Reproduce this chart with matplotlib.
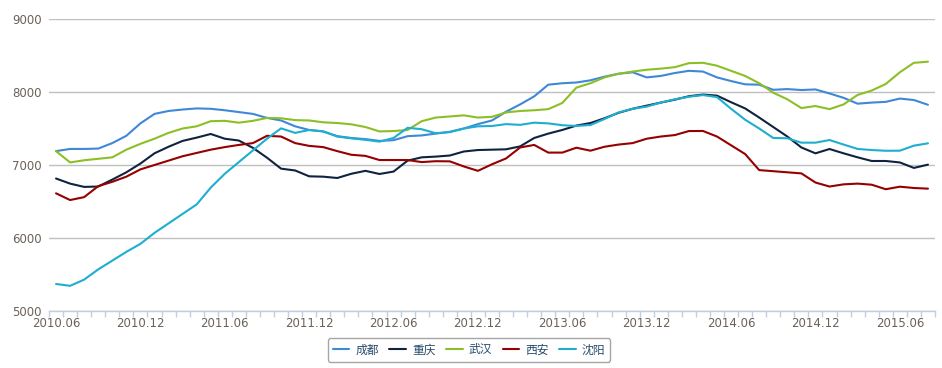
import matplotlib
matplotlib.use("Agg")
import matplotlib.pyplot as plt
from matplotlib.ticker import FixedLocator

# monthly categories 2010.06 .. 2015.08
months = [f"{2010 + (5 + i) // 12}.{(5 + i) % 12 + 1:02d}" for i in range(63)]

cities = ["成都", "重庆", "武汉", "西安", "沈阳"]
colors = ["#3f88d8", "#0f2340", "#8cbf26", "#960000", "#1eaecf"]

chengdu = [7190, 7220, 7220, 7225, 7300, 7400, 7570, 7700, 7740, 7760,
           7775, 7770, 7750, 7725, 7700, 7645, 7610, 7530, 7480, 7460,
           7395, 7370, 7355, 7330, 7340, 7395, 7405, 7430, 7455, 7500,
           7560, 7610, 7730, 7830, 7940, 8100, 8120, 8130, 8160, 8210,
           8250, 8270, 8200, 8220, 8260, 8290, 8280, 8200, 8150, 8105,
           8100, 8030, 8040, 8027, 8035, 7980, 7920, 7840, 7855, 7865,
           7910, 7890, 7825]
chongqing = [6815, 6745, 6700, 6705, 6800, 6900, 7020, 7160, 7250, 7330,
             7375, 7425, 7360, 7335, 7235, 7100, 6950, 6925, 6845, 6840,
             6822, 6880, 6920, 6877, 6910, 7060, 7105, 7115, 7130, 7185,
             7205, 7210, 7215, 7255, 7370, 7430, 7480, 7540, 7575, 7640,
             7715, 7770, 7813, 7855, 7895, 7942, 7965, 7950, 7860, 7775,
             7650, 7520, 7390, 7240, 7160, 7219, 7160, 7105, 7055, 7055,
             7035, 6960, 7005]
wuhan = [7190, 7035, 7065, 7085, 7105, 7210, 7290, 7360, 7440, 7500,
         7530, 7600, 7605, 7580, 7605, 7645, 7640, 7615, 7610, 7585,
         7575, 7557, 7520, 7460, 7465, 7480, 7600, 7650, 7665, 7680,
         7650, 7660, 7720, 7740, 7750, 7765, 7850, 8060, 8120, 8200,
         8250, 8280, 8305, 8320, 8340, 8395, 8400, 8360, 8290, 8220,
         8120, 7990, 7900, 7780, 7808, 7765, 7830, 7960, 8020, 8110,
         8270, 8400, 8415]
xian = [6612, 6520, 6560, 6710, 6770, 6840, 6940, 7000, 7060, 7120,
        7165, 7210, 7245, 7275, 7300, 7400, 7390, 7300, 7262, 7245,
        7190, 7140, 7125, 7068, 7068, 7068, 7040, 7052, 7050, 6980,
        6920, 7010, 7090, 7240, 7275, 7170, 7170, 7237, 7196, 7250,
        7280, 7300, 7360, 7390, 7410, 7465, 7466, 7390, 7270, 7150,
        6930, 6915, 6900, 6885, 6760, 6705, 6735, 6745, 6730, 6668,
        6703, 6685, 6676]
shenyang = [5370, 5345, 5430, 5570, 5690, 5810, 5920, 6070, 6200, 6330,
            6460, 6690, 6880, 7040, 7200, 7360, 7502, 7440, 7479, 7460,
            7390, 7365, 7345, 7320, 7370, 7510, 7490, 7435, 7450, 7500,
            7530, 7534, 7560, 7550, 7580, 7570, 7545, 7535, 7548, 7630,
            7720, 7770, 7800, 7855, 7900, 7935, 7958, 7930, 7770, 7620,
            7500, 7370, 7366, 7306, 7306, 7342, 7280, 7220, 7205, 7195,
            7196, 7265, 7297]
series = [chengdu, chongqing, wuhan, xian, shenyang]

W, H = 942, 368
fig = plt.figure(figsize=(W / 100, H / 100), dpi=100)
ax = fig.add_axes([49 / W, 1 - 311 / H, (935 - 49) / W, (311 - 19) / H])

x = list(range(len(months)))
for name, vals, c in zip(cities, series, colors):
    ax.plot(x, vals, color=c, lw=1.5, label=name, solid_joinstyle="round",
            solid_capstyle="round")

ax.set_xlim(-0.5, len(months) - 0.5)
ax.set_ylim(5000, 9000)

# y axis
ax.set_yticks([5000, 6000, 7000, 8000, 9000])
ax.yaxis.grid(True, color="#c0c0c0", lw=1)
ax.set_axisbelow(True)
ax.tick_params(axis="y", length=0, pad=5, labelsize=8.5, labelcolor="#6b6257")

# x axis: labels every 6 months, tick marks between categories
ax.set_xticks(x[::6])
ax.set_xticklabels(months[::6])
ax.xaxis.set_minor_locator(FixedLocator([i - 0.5 for i in range(len(months) + 1)]))
ax.tick_params(axis="x", which="major", length=0, pad=4, labelsize=8.5,
               labelcolor="#6b6257")
ax.tick_params(axis="x", which="minor", length=4, width=1, color="#c0d0e0")

for s in ["top", "right", "left"]:
    ax.spines[s].set_visible(False)
ax.spines["bottom"].set_color("#c0d0e0")
ax.spines["bottom"].set_linewidth(1)

leg = fig.legend(loc="center", bbox_to_anchor=(469 / W, 1 - 350 / H), ncol=5,
                 frameon=True, fancybox=True, handlelength=1.4, handletextpad=0.5,
                 columnspacing=0.9, borderpad=0.45,
                 prop={"family": ["Noto Sans CJK SC", "DejaVu Sans"], "size": 8.5})
leg.get_frame().set_edgecolor("#909090")
leg.get_frame().set_linewidth(1)
for t in leg.get_texts():
    t.set_color("#274b6d")
for h in leg.get_lines():
    h.set_linewidth(1.5)

fig.savefig("out.png", dpi=100)
